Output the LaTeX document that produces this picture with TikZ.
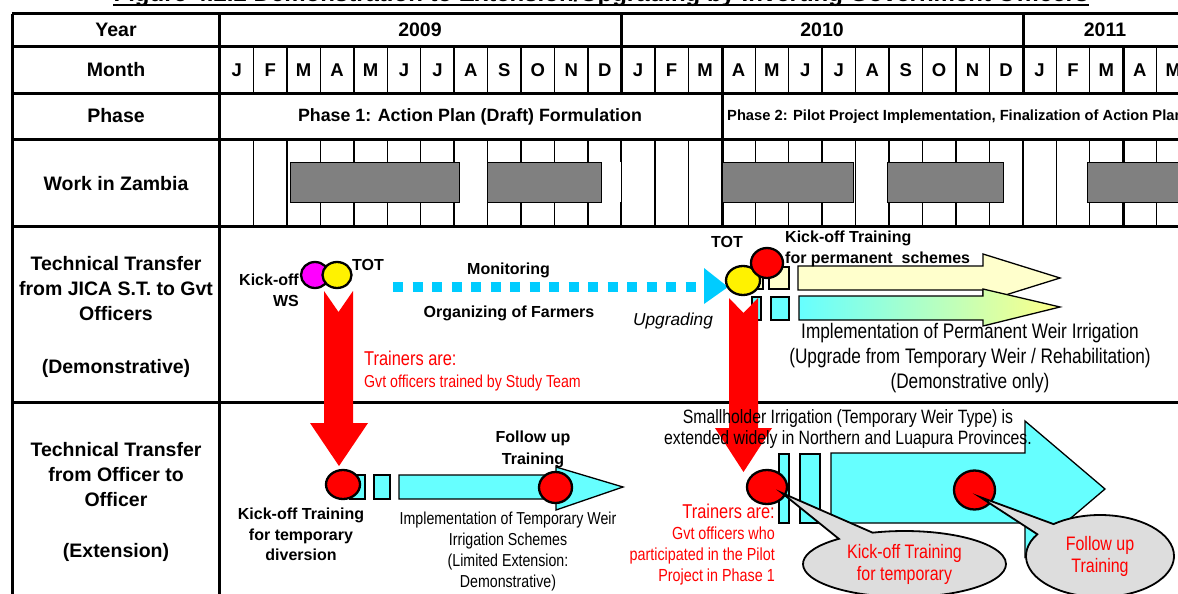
\documentclass[tikz,border=0pt]{standalone}
\usepackage{fontspec}
\setmainfont{Liberation Sans}
\newfontfamily\narrowf[FakeStretch=0.82]{Liberation Sans}
\usetikzlibrary{shapes.geometric,shapes.callouts}
\definecolor{cyanA}{HTML}{66FFFF}
\definecolor{dotc}{HTML}{00CCFF}
\definecolor{paley}{HTML}{FFFFCC}
\definecolor{grayb}{HTML}{808080}
\definecolor{callg}{HTML}{DDDDDD}
\definecolor{gradY}{HTML}{FFFF88}
\definecolor{magA}{HTML}{FF00FF}
\begin{document}
\begin{tikzpicture}[x=1pt,y=-1pt,
 thickln/.style={line width=3pt},
 thinln/.style={line width=1.4pt},
 hd/.style={font=\bfseries\fontsize{19.5}{25}\selectfont, inner sep=0pt, align=center},
 bl/.style={font=\bfseries\fontsize{16}{20.5}\selectfont, inner sep=0pt},
 blk/.style={draw=black, line width=1.3pt},
 dot/.style={ellipse, draw=black, line width=2.3pt, inner sep=0pt},
 redtxt/.style={text=red, inner sep=0pt},
 callo/.style={ellipse callout, draw=black, line width=1.8pt, fill=callg, text=red, align=center, inner sep=0pt,
   font=\narrowf\fontsize{19.5}{22}\selectfont}
]
\useasboundingbox (0,0) rectangle (1178,594);
\fill[white] (0,0) rectangle (1178,594);
\clip (0,0) rectangle (1178,594);

% title
\node[font=\bfseries\fontsize{24}{28}\selectfont, inner sep=0pt, anchor=base] (title) at (601,2)
  {Figure 4.2.2 Demonstration to Extension/Upgrading by Inverting Government Officers};
\draw[line width=2pt] ([yshift=-3.5pt]title.base west) -- ([yshift=-3.5pt]title.base east);

% month lines and gray bars (work in Zambia)
\foreach \i in {1,...,28} {
  \draw[thinln] ({220+33.45*\i},47) -- ({220+33.45*\i},93);
  \draw[thinln] ({220+33.45*\i},139) -- ({220+33.45*\i},226);
}
\foreach \a/\b in {290/459, 487/601, 722/853, 887/1003, 1087/1195}
  \filldraw[fill=grayb, draw=black, line width=1pt] (\a,162) rectangle (\b,202);

% grid
\foreach \yy in {14,47,93,139,226,402}
  \draw[thickln] (12,\yy) -- (1185,\yy);
\draw[thickln] (12,14) -- (12,600);
\draw[thickln] (219,14) -- (219,600);
\draw[thickln] (621,14) -- (621,93);
\draw[thickln] (1023,14) -- (1023,93);
\draw[thickln] (722,47) -- (722,139);
\draw[line width=2.2pt] (621,139) -- (621,162) (621,202) -- (621,226);
\draw[line width=2.2pt] (1023,139) -- (1023,162) (1023,202) -- (1023,226);
\draw[thickln] (722,139) -- (722,162) (722,202) -- (722,226);
\draw[thickln] (1123,47) -- (1123,93);
\draw[thickln] (1123,139) -- (1123,162) (1123,202) -- (1123,226);

% header texts
\node[hd, anchor=base] (year) at (116,37) {Year};
\node[hd, anchor=base] (y2009) at (420,37) {2009};
\node[hd, anchor=base] (y2010) at (822,37) {2010};
\node[hd, anchor=base] (y2011) at (1105,37) {2011};
\node[hd, anchor=base] (month) at (116,77) {Month};
\foreach \m [count=\i from 0] in {J,F,M,A,M,J,J,A,S,O,N,D,J,F,M,A,M,J,J,A,S,O,N,D,J,F,M,A,M}
  \node[font=\bfseries\fontsize{18.5}{22}\selectfont, inner sep=0pt, anchor=base] (mo\i) at ({220+33.45*(\i+0.5)},76.5) {\m};
\node[hd, anchor=base] (phase) at (116,122) {Phase};
\node[font=\bfseries\fontsize{17.8}{22}\selectfont, inner sep=0pt, anchor=base] (ph1) at (470,121.4)
  {Phase 1: Action Plan (Draft) Formulation};
\node[font=\bfseries\fontsize{14.7}{18}\selectfont, inner sep=0pt, anchor=base west] (ph2) at (727,120.3)
  {Phase 2: Pilot Project Implementation, Finalization of Action Plan};
\node[hd, anchor=base] (work) at (116,190) {Work in Zambia};

\node[hd, anchor=north] (row3) at (116,256)
  {Technical Transfer\\from JICA S.T. to Gvt\\Officers\\[28pt](Demonstrative)};
\node[hd, anchor=north] (row4) at (116,442)
  {Technical Transfer\\from Officer to\\Officer\\[26pt](Extension)};

% ---------- row 3 ----------
\filldraw[fill=paley, blk] (757,267) rectangle (763,289);
\filldraw[fill=paley, blk] (769,267) rectangle (789,289);
\filldraw[fill=paley, blk] (798,266) -- (983,266) -- (983,254) -- (1060,278) -- (983,302) -- (983,290) -- (798,290) -- cycle;
\filldraw[fill=cyanA, blk] (752,297) rectangle (761,320);
\filldraw[fill=cyanA, blk] (771,297) rectangle (789,320);
\path[left color=cyanA, right color=gradY, draw=black, line width=1.3pt]
  (799,296) -- (983,296) -- (983,289) -- (1060,307) -- (983,326) -- (983,320) -- (799,320) -- cycle;

% dotted arrow
\coordinate (dstart) at (393,287);
\coordinate (dend) at (704,287);
\draw[dotc, line width=10pt, dash pattern=on 10pt off 9.5pt] (dstart) -- (dend);
\fill[dotc] (704,268) -- (728,287) -- (704,304) -- cycle;

% red arrows
\fill[red] (324,291) -- (338.5,312) -- (353,291) -- (353,423) -- (368,423) -- (339,466) -- (310,423) -- (324,423) -- cycle;
\fill[red] (729,298) -- (743.5,313) -- (758,298) -- (758,428) -- (772,428) -- (743.5,472) -- (715,428) -- (729,428) -- cycle;

% circles row 3
\node[dot, fill=magA, minimum width=28pt, minimum height=26pt] (kwsc) at (315,275) {};
\node[dot, fill=yellow, minimum width=29pt, minimum height=26pt] (tot1c) at (337,275) {};
\node[dot, fill=yellow, minimum width=34pt, minimum height=29pt] (tot2c) at (743,280.5) {};
\node[dot, fill=red, minimum width=32pt, minimum height=30pt] (kopc) at (767,263) {};

\node[bl, anchor=north east, align=right] (kws) at (299,274) {Kick-off\\WS};
\node[bl, anchor=base] (tot1) at (368,270) {TOT};
\node[bl, anchor=base] (mon) at (508.5,274) {Monitoring};
\node[bl, anchor=base] (org) at (509,317) {Organizing of Farmers};
\node[font=\itshape\fontsize{17.3}{20}\selectfont, inner sep=0pt, anchor=base] (upg) at (673,325) {Upgrading};
\node[bl, anchor=base] (tot2) at (727,247) {TOT};
\node[bl, anchor=north west, align=left] (kop) at (785,231) {Kick-off Training\\for permanent\ \ schemes};
\node[redtxt, font=\narrowf\fontsize{20}{24}\selectfont, anchor=base west] (tr1) at (364,365) {Trainers are:};
\node[redtxt, font=\narrowf\fontsize{17.3}{21}\selectfont, anchor=base west] (tr1b) at (364,387) {Gvt officers trained by Study Team};
\node[font=\narrowf\fontsize{21}{25}\selectfont, inner sep=0pt, align=center, anchor=north] (perm) at (970,323.5)
  {Implementation of Permanent Weir Irrigation\\(Upgrade from Temporary Weir / Rehabilitation)\\(Demonstrative only)};

% ---------- row 4 ----------
\filldraw[fill=cyanA, blk] (350,475) rectangle (365,499);
\filldraw[fill=cyanA, blk] (374,475) rectangle (390,499);
\filldraw[fill=cyanA, blk] (399,475) -- (556,475) -- (556,467) -- (623,487) -- (556,510) -- (556,499) -- (399,499) -- cycle;
\filldraw[fill=cyanA, blk] (779,454) rectangle (789,523);
\filldraw[fill=cyanA, blk] (800,454) rectangle (820,523);
\filldraw[fill=cyanA, blk] (831,453) -- (1025,453) -- (1025,421) -- (1105,489) -- (1025,557) -- (1025,523) -- (831,523) -- cycle;

\node[dot, fill=red, minimum width=34pt, minimum height=29pt] (kt1) at (343,484.5) {};
\node[dot, fill=red, minimum width=33pt, minimum height=31pt] (fu1) at (555.5,487.5) {};
\node[dot, fill=red, minimum width=40pt, minimum height=34pt] (kt2) at (767,487) {};
\node[dot, fill=red, minimum width=41pt, minimum height=39pt] (fu2) at (974.5,490) {};

\node[callo, minimum width=203pt, minimum height=66pt, callout absolute pointer={(782,493)}, callout pointer arc=22] (co1) at (904.5,564)
  {Kick-off Training\\for temporary};
\node[callo, minimum width=148pt, minimum height=82pt, callout absolute pointer={(980,497)}, callout pointer arc=19] (co2) at (1100,556)
  {Follow up\\Training};

\node[bl, anchor=north, align=center] (kt1t) at (301,508) {Kick-off Training\\for temporary\\diversion};
\node[bl, anchor=north, align=center, font=\bfseries\fontsize{16}{21.5}\selectfont] (fu1t) at (533,431) {Follow up\\Training};
\node[font=\narrowf\fontsize{17.3}{21}\selectfont, inner sep=0pt, align=center, anchor=north] (tmp) at (508,511.6)
  {Implementation of Temporary Weir\\Irrigation Schemes\\(Limited Extension:\\Demonstrative)};
\node[redtxt, font=\narrowf\fontsize{20}{24}\selectfont, anchor=base east] (tr2) at (775,518) {Trainers are:};
\node[redtxt, font=\narrowf\fontsize{17.5}{21}\selectfont, align=right, anchor=north east] (tr2b) at (775,526.5)
  {Gvt officers who\\participated in the Pilot\\Project in Phase 1};
\node[font=\narrowf\fontsize{19.3}{21}\selectfont, inner sep=0pt, align=center, anchor=north] (small) at (848,409)
  {Smallholder Irrigation (Temporary Weir Type) is\\extended widely in Northern and Luapura Provinces.};
\end{tikzpicture}
\end{document}
